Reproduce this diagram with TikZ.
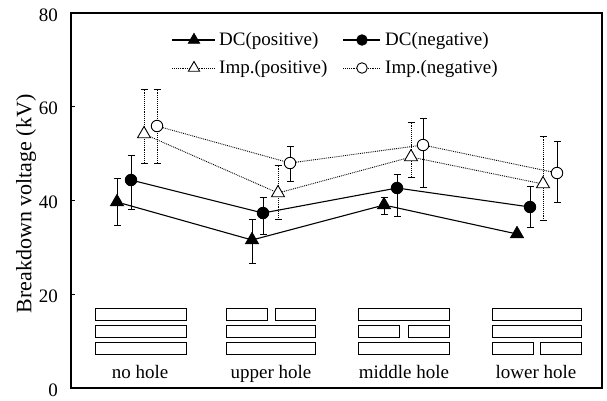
\documentclass[tikz,border=0pt]{standalone}
\usepackage{fontspec}
\setmainfont{Liberation Serif}
\usetikzlibrary{shapes.geometric,arrows.meta}
\begin{document}
\begin{tikzpicture}[x=1pt,y=-1pt,
  lbl/.style={inner sep=0pt,font=\fontsize{19}{21}\selectfont},
  tri/.style={regular polygon,regular polygon sides=3,inner sep=0pt,minimum size=15pt,draw=black,line width=0.9pt},
  trifill/.style={tri,fill=black},
  triopen/.style={tri,fill=white},
  circ/.style={circle,inner sep=0pt,minimum size=11.5pt,draw=black,line width=0.9pt},
  circfill/.style={circ,fill=black},
  circopen/.style={circ,fill=white},
  dcline/.style={line width=1.1pt,black},
  impline/.style={line width=0.9pt,black,densely dotted},
  ebar/.style={line width=1pt,{Bar[width=7pt]}-{Bar[width=7pt]}},
  ebardot/.style={line width=0.9pt,densely dotted,{Bar[width=7pt]}-{Bar[width=7pt]}},
  blk/.style={draw=black,line width=0.7pt}
]
\useasboundingbox (0,0) rectangle (607,400);
% frame
\draw[line width=1.1pt] (71,13) rectangle (602,388);
% ticks
\foreach \yy in {106.75,200.5,294.25} \draw[line width=0.8pt] (71,\yy) -- (75,\yy);
% tick labels
\node[lbl,anchor=east] (t80) at (58,15) {80};
\node[lbl,anchor=east] (t60) at (58,108) {60};
\node[lbl,anchor=east] (t40) at (58,202) {40};
\node[lbl,anchor=east] (t20) at (58,296) {20};
\node[lbl,anchor=east] (t0) at (58,390) {0};
\node[inner sep=0pt,font=\fontsize{22}{24}\selectfont,rotate=90] (ylab) at (26,204) {Breakdown voltage (kV)};

% error bars
\draw[ebar] (117,178) -- (117,226);
\draw[ebar] (131,155) -- (131,210);
\draw[ebardot] (144,89) -- (144,164);
\draw[ebardot] (157,89) -- (157,164);
\draw[ebar] (252,219) -- (252,264);
\draw[ebar] (263,197) -- (263,235);
\draw[ebardot] (278,165) -- (278,220);
\draw[ebar] (290,146) -- (290,182);
\draw[ebar] (384,197) -- (384,215);
\draw[ebar] (397,174) -- (397,217);
\draw[ebardot] (411,122) -- (411,178);
\draw[ebar] (423,118) -- (423,188);
\draw[ebar] (530,186) -- (530,228);
\draw[ebardot] (543,136) -- (543,221);
\draw[ebar] (557,141) -- (557,203);

% markers
\node[trifill] (dp1) at (117,202) {};
\node[trifill] (dp2) at (252,240) {};
\node[trifill] (dp3) at (384,205) {};
\node[trifill] (dp4) at (517,234) {};
\node[circfill] (dn1) at (131,180) {};
\node[circfill] (dn2) at (263,213) {};
\node[circfill] (dn3) at (397,188) {};
\node[circfill] (dn4) at (530,207) {};
\node[triopen] (ip1) at (144,134) {};
\node[triopen] (ip2) at (278,193) {};
\node[triopen] (ip3) at (411,157) {};
\node[triopen] (ip4) at (543,184) {};
\node[circopen] (in1) at (157,126) {};
\node[circopen] (in2) at (290,163) {};
\node[circopen] (in3) at (423,145) {};
\node[circopen] (in4) at (557,173) {};

% series lines
\draw[dcline] (dp1) -- (dp2) -- (dp3) -- (dp4);
\draw[dcline] (dn1) -- (dn2) -- (dn3) -- (dn4);
\draw[impline] (ip1) -- (ip2) -- (ip3) -- (ip4);
\draw[impline] (in1) -- (in2) -- (in3) -- (in4);

% legend
\coordinate (la1) at (172,40); \coordinate (lb1) at (215,40);
\coordinate (la2) at (343,40); \coordinate (lb2) at (380,40);
\coordinate (la3) at (172,68); \coordinate (lb3) at (215,68);
\coordinate (la4) at (343,68); \coordinate (lb4) at (380,68);
\draw[dcline] (la1) -- (lb1);
\draw[dcline] (la2) -- (lb2);
\draw[impline] (la3) -- (lb3);
\draw[impline] (la4) -- (lb4);
\node[trifill,minimum size=13pt] (lm1) at (194,40) {};
\node[circfill,minimum size=10.5pt] (lm2) at (362,40) {};
\node[triopen,minimum size=13pt] (lm3) at (194,68) {};
\node[circopen,minimum size=10.5pt] (lm4) at (362,68) {};
\node[lbl,anchor=west] (lt1) at (219,41) {DC(positive)};
\node[lbl,anchor=west] (lt2) at (385,41) {DC(negative)};
\node[lbl,anchor=west] (lt3) at (219,69) {Imp.(positive)};
\node[lbl,anchor=west] (lt4) at (385,69) {Imp.(negative)};

% pictograms: no hole
\draw[blk] (95,308) rectangle (186,320);
\draw[blk] (95,325) rectangle (186,337);
\draw[blk] (95,342) rectangle (186,354);
% upper hole
\draw[blk] (226,308) rectangle (267,320);
\draw[blk] (275,308) rectangle (315,320);
\draw[blk] (226,325) rectangle (315,337);
\draw[blk] (226,342) rectangle (315,354);
% middle hole
\draw[blk] (358,308) rectangle (449,320);
\draw[blk] (358,325) rectangle (399,337);
\draw[blk] (408,325) rectangle (449,337);
\draw[blk] (358,342) rectangle (449,354);
% lower hole
\draw[blk] (492,308) rectangle (581,320);
\draw[blk] (492,325) rectangle (581,337);
\draw[blk] (492,342) rectangle (533,354);
\draw[blk] (540,342) rectangle (581,354);

\node[lbl,anchor=base] (c1) at (140,378) {no hole};
\node[lbl,anchor=base] (c2) at (271,378) {upper hole};
\node[lbl,anchor=base] (c3) at (404,378) {middle hole};
\node[lbl,anchor=base] (c4) at (536,378) {lower hole};
\end{tikzpicture}
\end{document}
